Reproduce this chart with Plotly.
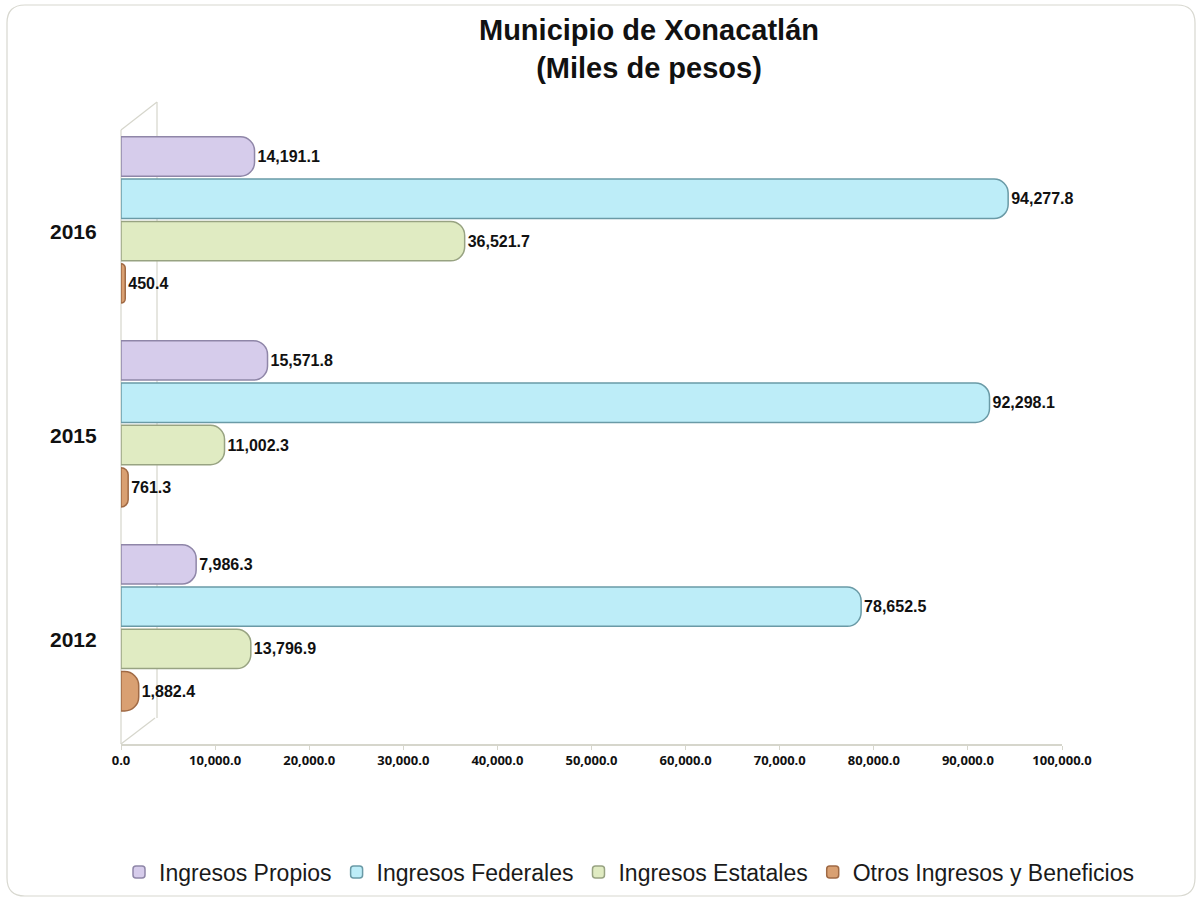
import plotly.graph_objects as go

years = ["2016", "2015", "2012"]
series_names = ["Ingresos Propios", "Ingresos Federales", "Ingresos Estatales", "Otros Ingresos y Beneficios"]
ingresos_propios = [14191.1, 15571.8, 7986.3]
ingresos_federales = [94277.8, 92298.1, 78652.5]
ingresos_estatales = [36521.7, 11002.3, 13796.9]
otros_ingresos = [450.4, 761.3, 1882.4]
x_ticks = [0, 10000, 20000, 30000, 40000, 50000, 60000, 70000, 80000, 90000, 100000]

series_values = [ingresos_propios, ingresos_federales, ingresos_estatales, otros_ingresos]
fills = ["#d6cceb", "#bdedf8", "#e0ebc2", "#d9a072"]
edges = ["#8f86a8", "#6a9aa6", "#98a382", "#a06a45"]

W, H = 1203, 901
ML, MR, MT, MB = 121, 141, 118, 157
PW, PH = W - ML - MR, H - MT - MB

def px(x):
    return (x - ML) / PW

def py(y):
    return (H - MB - y) / PH

fig = go.Figure()
for name, vals, fc, ec in zip(series_names, series_values, fills, edges):
    fig.add_trace(go.Bar(
        y=years, x=vals, name=name, orientation="h",
        marker=dict(color=fc, line=dict(color=ec, width=1.5), cornerradius=14),
        texttemplate="%{x:,.1f}", textposition="outside",
        textfont=dict(family="Liberation Sans, Arial", size=16, color="#111111", weight="bold"),
        cliponaxis=False,
    ))

shapes = []
# rounded outer border
x0, y0, x1, y1, r = 7, 5, 1195, 896, 18
path = (f"M {px(x0+r)},{py(y0)} L {px(x1-r)},{py(y0)} Q {px(x1)},{py(y0)} {px(x1)},{py(y0+r)} "
        f"L {px(x1)},{py(y1-r)} Q {px(x1)},{py(y1)} {px(x1-r)},{py(y1)} "
        f"L {px(x0+r)},{py(y1)} Q {px(x0)},{py(y1)} {px(x0)},{py(y1-r)} "
        f"L {px(x0)},{py(y0+r)} Q {px(x0)},{py(y0)} {px(x0+r)},{py(y0)} Z")
shapes.append(dict(type="path", xref="paper", yref="paper", path=path,
                   line=dict(color="#d8d8d0", width=1.2), layer="below"))
# 3D wall lines
wall = [
    ((121, 130), (121, 744)),
    ((121, 130), (157, 102)),
    ((157, 102), (157, 718)),
    ((121, 744), (155, 718)),
]
for (ax, ay), (bx, by) in wall:
    shapes.append(dict(type="line", xref="paper", yref="paper",
                       x0=px(ax), y0=py(ay), x1=px(bx), y1=py(by),
                       line=dict(color="#d6d6cc", width=1.2), layer="below"))

annotations = []
for i, yr in enumerate(years):
    annotations.append(dict(text=yr, xref="paper", yref="y", x=px(99), y=i,
                            xanchor="right", yanchor="middle", yshift=-12, showarrow=False,
                            font=dict(family="Liberation Sans, Arial", size=21, color="#111111", weight="bold")))

fig.update_layout(
    width=W, height=H,
    margin=dict(l=ML, r=MR, t=MT, b=MB, autoexpand=False),
    paper_bgcolor="white", plot_bgcolor="white",
    barmode="group", bargap=0.17, bargroupgap=0.07,
    title=dict(text="Municipio de Xonacatlán<br>(Miles de pesos)",
               x=649 / W, xref="container", xanchor="center",
               y=1 - 40 / H, yref="container", yanchor="middle",
               font=dict(family="Liberation Sans, Arial", size=29, color="#111111", weight="bold")),
    xaxis=dict(range=[0, 100000], tickvals=x_ticks, tickformat=",.1f",
               showgrid=False, zeroline=False,
               showline=True, linecolor="#d6d6cc", linewidth=1.5,
               ticks="outside", tickcolor="#d6d6cc", ticklen=4,
               tickfont=dict(family="Open Sans, Liberation Sans", size=13, color="#111111", weight="bold")),
    yaxis=dict(type="category", range=[2.57, -0.5], showgrid=False, showline=False,
               ticks="", showticklabels=False),
    legend=dict(orientation="h", x=px(119), xref="paper", xanchor="left",
                y=py(872), yref="paper", yanchor="middle",
                font=dict(family="Liberation Sans, Arial", size=23, color="#1a1a1a"),
                itemwidth=30, tracegroupgap=0),
    shapes=shapes,
    annotations=annotations,
    showlegend=True,
)

fig.write_html("out.html", config={"displayModeBar": False},
               post_script="document.body.style.margin='0px';")
